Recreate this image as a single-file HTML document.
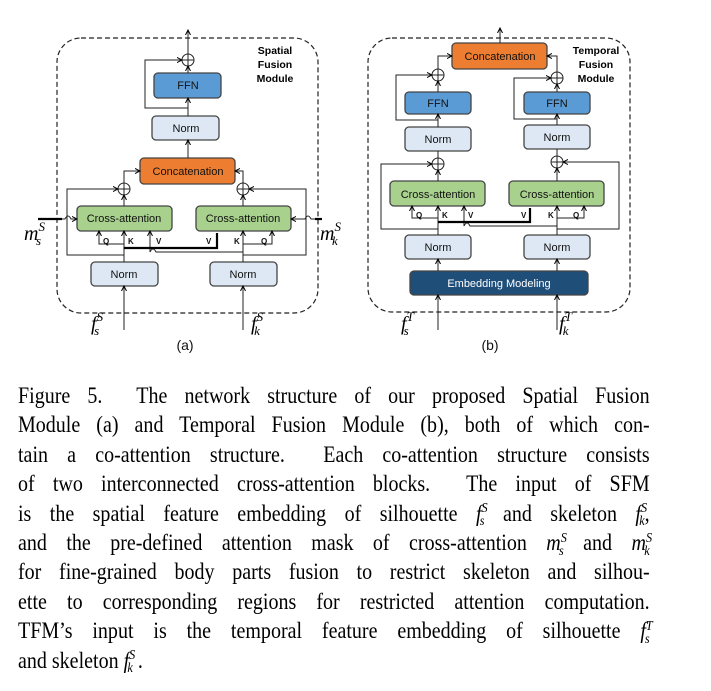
<!DOCTYPE html>
<html><head><meta charset="utf-8"><style>
body{margin:0;width:711px;height:691px;background:#fff;overflow:hidden;position:relative}
svg{position:absolute;left:0;top:0}
.cap{position:absolute;left:18px;width:726px;transform:scaleX(0.87);transform-origin:0 0;font-family:"Liberation Serif",serif;font-size:23px;line-height:29.4px;top:381px;color:#000}
.cap div{white-space:nowrap;text-align:justify;text-align-last:justify;height:29.4px}
.cap div.l{text-align-last:left}
i{font-style:italic}
sup,sub{font-size:14px;font-style:italic;line-height:0;vertical-align:baseline;position:relative}
sup{top:-0.6em}
sub{top:0.35em;margin-left:-9px}
</style></head><body>
<svg width="711" height="380" viewBox="0 0 711 380" font-family="Liberation Sans, sans-serif">
<defs><marker id="a" markerWidth="6" markerHeight="6" refX="5" refY="3" orient="auto"><path d="M0,0.5 L5,3 L0,5.5" fill="none" stroke="#000" stroke-width="1"/></marker></defs>
<g fill="none" stroke="#222" stroke-dasharray="5,3" stroke-width="1.2">
<rect x="57" y="38" width="261" height="275" rx="24"/>
<rect x="368" y="38" width="262" height="274" rx="24"/>
</g>
<g stroke="#444" stroke-width="1.3">
<rect x="154" y="73" width="67" height="25" rx="4" fill="#5b9bd5"/>
<rect x="152" y="116" width="67" height="24" rx="4" fill="#dde8f4"/>
<rect x="140" y="158" width="95" height="26" rx="4" fill="#ed7d31"/>
<rect x="77" y="206" width="95" height="25" rx="4" fill="#a9d18e"/>
<rect x="196" y="206" width="95" height="25" rx="4" fill="#a9d18e"/>
<rect x="91" y="262" width="67" height="24" rx="4" fill="#dde8f4"/>
<rect x="210" y="262" width="67" height="24" rx="4" fill="#dde8f4"/>
<rect x="452" y="43" width="95" height="26" rx="4" fill="#ed7d31"/>
<rect x="405" y="92" width="66" height="22" rx="4" fill="#5b9bd5"/>
<rect x="524" y="92" width="66" height="22" rx="4" fill="#5b9bd5"/>
<rect x="405" y="127" width="66" height="24" rx="4" fill="#dde8f4"/>
<rect x="524" y="125" width="66" height="24" rx="4" fill="#dde8f4"/>
<rect x="390" y="181" width="95" height="25" rx="4" fill="#a9d18e"/>
<rect x="509" y="181" width="95" height="25" rx="4" fill="#a9d18e"/>
<rect x="405" y="235" width="66" height="24" rx="4" fill="#dde8f4"/>
<rect x="524" y="235" width="66" height="24" rx="4" fill="#dde8f4"/>
<rect x="410" y="271" width="178" height="24" rx="4" fill="#1f4e79"/>
</g>
<g fill="none" stroke="#222" stroke-width="1">
<circle cx="188" cy="60" r="6"/><path d="M182,60h12M188,54v12"/>
<circle cx="124" cy="189" r="6"/><path d="M118,189h12M124,183v12"/>
<circle cx="243" cy="189" r="6"/><path d="M237,189h12M243,183v12"/>
<circle cx="438" cy="75" r="6"/><path d="M432,75h12M438,69v12"/>
<circle cx="557" cy="78" r="6"/><path d="M551,78h12M557,72v12"/>
<circle cx="438" cy="164" r="6"/><path d="M432,164h12M438,158v12"/>
<circle cx="557" cy="162" r="6"/><path d="M551,162h12M557,156v12"/>
</g>
<g fill="none" stroke="#222" stroke-width="1" marker-end="url(#a)">
<path d="M188,54V30"/><path d="M188,73V66"/><path d="M188,116V98"/><path d="M188,158V140"/>
<path d="M188,108H145V60H182"/>
<path d="M124,183V171H140"/><path d="M243,183V171H235"/>
<path d="M124,206V195"/><path d="M243,206V195"/>
<path d="M124,255H67V189H118"/><path d="M243,255H306V189H249"/>
<path d="M124,262V244H99V231"/><path d="M124,244V231"/>
<path d="M243,262V244H272V231"/><path d="M243,244V231"/>
<path d="M243,252H156Q153,246 150,252V231"/>
<path d="M124,330V286"/><path d="M243,330V286"/>
<path d="M62,219H65Q68,213 71,219H77"/><path d="M315,219H311Q308,213 305,219H291"/>
<path d="M500,43V28"/>
<path d="M438,69V56H452"/><path d="M557,72V56H547"/>
<path d="M438,92V81"/><path d="M557,92V84"/>
<path d="M438,127V114"/><path d="M557,125V114"/>
<path d="M438,120H396V75H432"/><path d="M557,119H514V78H551"/>
<path d="M438,181V170"/><path d="M557,181V168"/>
<path d="M438,151V164" marker-end="none"/><path d="M557,149V162" marker-end="none"/>
<path d="M438,229H381V164H432"/><path d="M557,229H619V162H563"/>
<path d="M438,235V218H412V206"/><path d="M438,218V206"/>
<path d="M557,235V218H584V206"/><path d="M557,218V206"/>
<path d="M557,226H470Q467,220 464,226V206"/>
<path d="M438,271V259"/><path d="M557,271V259"/>
<path d="M438,330V295"/><path d="M557,330V295"/>
</g>
<g stroke="#000" stroke-width="2.2" fill="none">
<path d="M38,219H62"/><path d="M322,219H315"/>
<path d="M124,248H217V233"/>
<path d="M438,222H530V208"/>
</g>
<g font-size="11" text-anchor="middle" fill="#111">
<text x="188" y="89">FFN</text><text x="186" y="132">Norm</text>
<text x="188" y="175">Concatenation</text>
<text x="124" y="222">Cross-attention</text><text x="243" y="222">Cross-attention</text>
<text x="124" y="278">Norm</text><text x="243" y="278">Norm</text>
<text x="500" y="60">Concatenation</text>
<text x="438" y="107">FFN</text><text x="557" y="107">FFN</text>
<text x="438" y="143">Norm</text><text x="557" y="141">Norm</text>
<text x="438" y="198">Cross-attention</text><text x="557" y="198">Cross-attention</text>
<text x="438" y="251">Norm</text><text x="557" y="251">Norm</text>
<text x="499" y="287" fill="#fff">Embedding Modeling</text>
<text x="185" y="350" font-size="14">(a)</text><text x="490" y="350" font-size="14">(b)</text>
</g>
<g font-size="8" fill="#111" font-weight="bold">
<text x="103" y="244">Q</text><text x="128" y="244">K</text><text x="156" y="244">V</text>
<text x="206" y="244">V</text><text x="234" y="244">K</text><text x="261" y="244">Q</text>
<text x="416" y="218">Q</text><text x="442" y="218">K</text><text x="468" y="218">V</text>
<text x="521" y="218">V</text><text x="548" y="218">K</text><text x="573" y="218">Q</text>
</g>
<g font-size="10.5" font-weight="bold" text-anchor="middle" fill="#000">
<text x="275" y="54">Spatial</text><text x="275" y="68">Fusion</text><text x="275" y="82">Module</text>
<text x="596" y="54">Temporal</text><text x="596" y="68">Fusion</text><text x="596" y="82">Module</text>
</g>
<g font-family="Liberation Serif, serif" font-style="italic" fill="#000">
<text x="91" y="330" font-size="20">f<tspan font-size="13" dy="-9">S</tspan><tspan font-size="13" dx="-9" dy="14">s</tspan></text>
<text x="251" y="330" font-size="20">f<tspan font-size="13" dy="-9">S</tspan><tspan font-size="13" dx="-9" dy="14">k</tspan></text>
<text x="24" y="240" font-size="20">m<tspan font-size="13" dy="-9">S</tspan><tspan font-size="13" dx="-9" dy="14">s</tspan></text>
<text x="320" y="240" font-size="20">m<tspan font-size="13" dy="-9">S</tspan><tspan font-size="13" dx="-9" dy="14">k</tspan></text>
<text x="401" y="330" font-size="20">f<tspan font-size="13" dy="-9">T</tspan><tspan font-size="13" dx="-9" dy="14">s</tspan></text>
<text x="559" y="330" font-size="20">f<tspan font-size="13" dy="-9">T</tspan><tspan font-size="13" dx="-9" dy="14">k</tspan></text>
</g>
</svg>
<div class="cap">
<div>Figure 5.&nbsp; The network structure of our proposed Spatial Fusion</div>
<div>Module (a) and Temporal Fusion Module (b), both of which con-</div>
<div>tain a co-attention structure.&nbsp; Each co-attention structure consists</div>
<div>of two interconnected cross-attention blocks.&nbsp; The input of SFM</div>
<div>is the spatial feature embedding of silhouette <i>f<sup>S</sup><sub>s</sub></i> and skeleton <i>f<sup>S</sup><sub>k</sub></i>,</div>
<div>and the pre-defined attention mask of cross-attention <i>m<sup>S</sup><sub>s</sub></i> and <i>m<sup>S</sup><sub>k</sub></i></div>
<div>for fine-grained body parts fusion to restrict skeleton and silhou-</div>
<div>ette to corresponding regions for restricted attention computation.</div>
<div>TFM’s input is the temporal feature embedding of silhouette <i>f<sup>T</sup><sub>s</sub></i></div>
<div class="l">and skeleton <i>f<sup>S</sup><sub>k</sub></i>&nbsp;.</div>
</div>
</body></html>
